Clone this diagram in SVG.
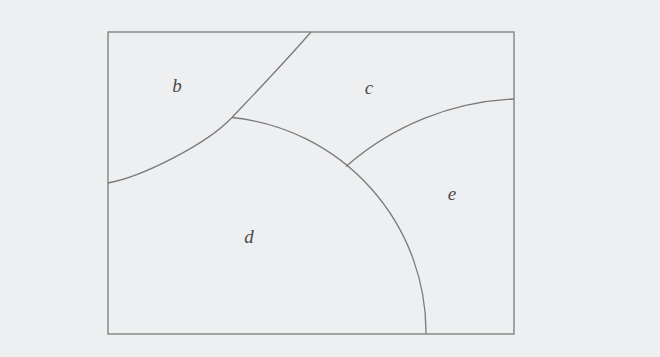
<svg xmlns="http://www.w3.org/2000/svg" width="660" height="357" viewBox="0 0 660 357">
  <style>
    .ln { fill: none; stroke: #7a7a7a; stroke-width: 1.3; }
    .lb { font-family: "Liberation Serif", "Times New Roman", serif; font-style: italic; font-size: 19px; fill: #4a4a4a; text-anchor: middle; }
  </style>
  <rect x="0" y="0" width="660" height="357" fill="#eeeff1"/>
  <g id="frame">
    <rect class="ln" x="108" y="32" width="406" height="302"/>
  </g>
  <g id="boundaries">
    <path id="curve-b" class="ln" d="M108,183 C142,177 207,144 232,117.5 C258,90 285,62 311,32"/>
    <path id="curve-d" class="ln" d="M232,117.5 A216,216 0 0 1 426,334"/>
    <path id="curve-e" class="ln" d="M346,166.5 A273,273 0 0 1 514,99"/>
  </g>
  <g id="labels">
    <text id="label-b" class="lb" x="177" y="92">b</text>
    <text id="label-c" class="lb" x="369" y="94">c</text>
    <text id="label-d" class="lb" x="249" y="243">d</text>
    <text id="label-e" class="lb" x="452" y="200">e</text>
  </g>
</svg>
